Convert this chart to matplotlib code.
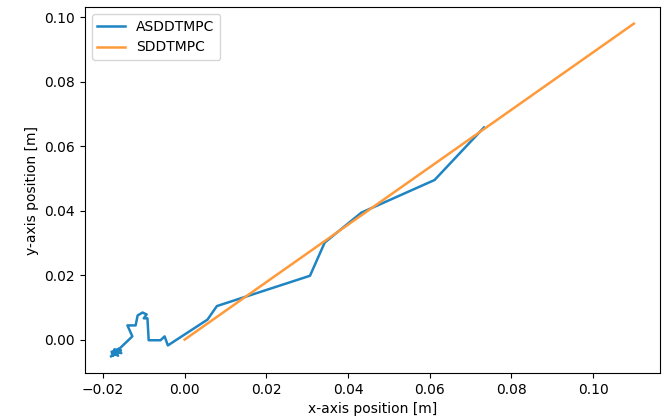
import matplotlib
matplotlib.use("Agg")
import matplotlib.pyplot as plt

# ASDDTMPC trajectory (x, y) in metres
asd_x = [-0.0180, -0.0165, -0.0178, -0.0156, -0.0176, -0.0160, -0.0179, -0.0163,
         -0.0172, -0.0155, -0.0166, -0.0128, -0.0140,
         -0.0120, -0.0115, -0.0103, -0.0093, -0.0100, -0.0091, -0.0088, -0.0059,
         -0.0049, -0.0041, 0.0056, 0.0079, 0.0307, 0.0343, 0.0433, 0.0612, 0.0733]
asd_y = [-0.0052, -0.0040, -0.0045, -0.0033, -0.0050, -0.0028, -0.0038, -0.0050,
         -0.0030, -0.0042, -0.0036, 0.0010, 0.0044,
         0.0044, 0.0075, 0.0084, 0.0078, 0.0066, 0.0066, -0.0002, -0.0002,
         0.0010, -0.0018, 0.0062, 0.0104, 0.0198, 0.0301, 0.0394, 0.0495, 0.0658]

# SDDTMPC trajectory
sd_x = [0.0, 0.110]
sd_y = [0.0, 0.098]

fig = plt.figure(figsize=(6.68, 4.2), dpi=100)
ax = fig.add_axes([0.1272, 0.1119, 0.8608, 0.8714])
ax.plot(asd_x, asd_y, color="#1f84c2", lw=1.8, label="ASDDTMPC")
ax.plot(sd_x, sd_y, color="#ff9a3a", lw=1.8, label="SDDTMPC")
ax.set_xlabel("x-axis position [m]")
ax.set_ylabel("y-axis position [m]")
ax.legend(loc="upper left")
fig.savefig("out.png", dpi=100)
